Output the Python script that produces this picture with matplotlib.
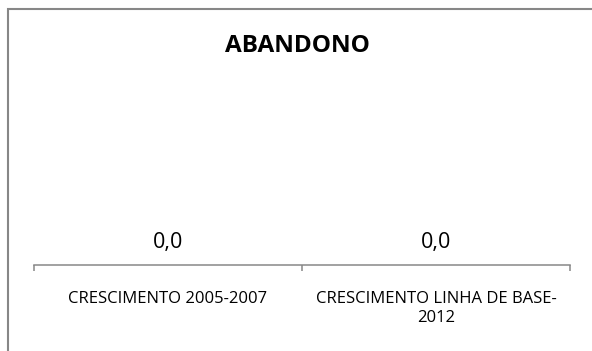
import matplotlib
matplotlib.use("Agg")
import matplotlib.pyplot as plt
from matplotlib.lines import Line2D

title = "ABANDONO"
categories = ["CRESCIMENTO 2005-2007", "CRESCIMENTO LINHA DE BASE-\n2012"]
values = [0.0, 0.0]

W, H = 592, 351
DPI = 100
grey = "#878787"
font = "Open Sans"

fig = plt.figure(figsize=(W / DPI, H / DPI), dpi=DPI)
fig.patch.set_facecolor("white")

# chart frame (left and top edges visible)
fig.add_artist(Line2D([8 / W, 8 / W, 1.0], [-0.05, 1 - 9 / H, 1 - 9 / H],
                      transform=fig.transFigure, color=grey, lw=1.5,
                      solid_joinstyle="miter"))

left = 34 / W
right = 570 / W
bottom = (H - 264.5) / H
ax = fig.add_axes([left, bottom, right - left, 0.5])

x = list(range(len(categories)))
ax.bar(x, values, width=0.6, color="#4f81bd")
ax.set_xlim(-0.5, len(categories) - 0.5)
ax.set_ylim(0, 1)

for xi, v in zip(x, values):
    ax.annotate(f"{v:.1f}".replace(".", ","), xy=(xi, v), xytext=(0, 12),
                textcoords="offset points", ha="center", va="baseline",
                fontsize=15.5, family=font, color="black")

for s in ["top", "right", "left"]:
    ax.spines[s].set_visible(False)
ax.spines["bottom"].set_color(grey)
ax.spines["bottom"].set_linewidth(1.1)
ax.set_yticks([])

ax.set_xticks(x)
ax.set_xticklabels(categories, fontsize=12, family=font, color="black",
                   linespacing=1.3)
ax.tick_params(axis="x", which="major", length=0, pad=19)
ax.set_xticks([i - 0.5 for i in range(len(categories) + 1)], minor=True)
ax.tick_params(axis="x", which="minor", length=4, width=1.1, color=grey,
               direction="out")

fig.text(0.5 + 1 / W, 1 - 46 / H, title, ha="center", va="center",
         fontsize=17.5, fontweight="bold", family=font, color="black")

fig.savefig("out.png", dpi=DPI, facecolor="white")
